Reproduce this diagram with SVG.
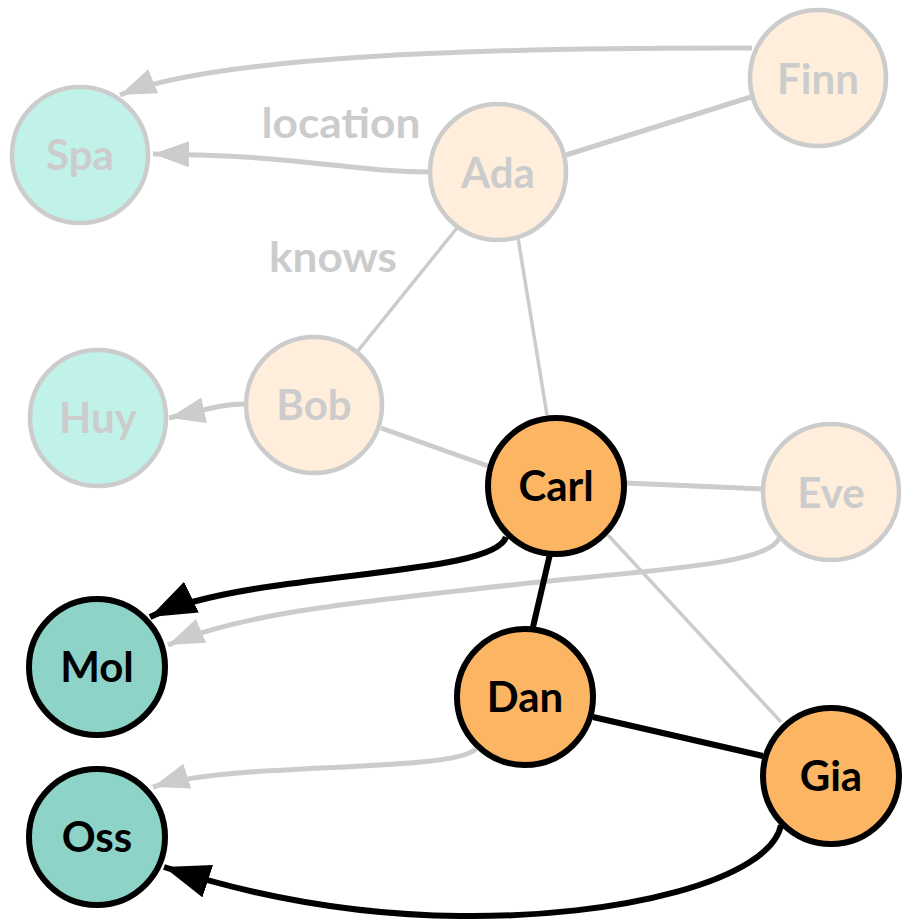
<svg xmlns="http://www.w3.org/2000/svg" width="904" height="921" viewBox="0 0 904 921">
<style>
.fe{fill:none;stroke:#cccccc;stroke-width:5}
.ft{fill:none;stroke:#cccccc;stroke-width:3.5}
.be{fill:none;stroke:#000;stroke-width:6}
.fp{fill:#ffeedb;stroke:#cccccc;stroke-width:4.5}
.fl{fill:#c1f2e9;stroke:#cccccc;stroke-width:4.5}
.ap{fill:#fbb563;stroke:#000;stroke-width:6}
.al{fill:#8dd3c7;stroke:#000;stroke-width:6}
.ftx{font-family:Lato,"Open Sans",sans-serif;font-size:42px;font-weight:bold;fill:#cccccc;text-anchor:middle}
.atx{font-family:Lato,"Open Sans",sans-serif;font-size:42px;font-weight:bold;fill:#000;text-anchor:middle}
.el{font-family:Lato,"Open Sans",sans-serif;font-size:42px;font-weight:bold;fill:#cccccc;text-anchor:middle}
</style>
<defs>
<marker id="ag" markerUnits="userSpaceOnUse" markerWidth="40" markerHeight="30" refX="36" refY="13" orient="auto" viewBox="0 0 40 30">
<path d="M0,0 L36,13 L0,26 z" fill="#cccccc"/>
</marker>
<marker id="ab" markerUnits="userSpaceOnUse" markerWidth="50" markerHeight="40" refX="46" refY="17" orient="auto" viewBox="0 0 50 40">
<path d="M0,0 L46,17 L0,34 z" fill="#000"/>
</marker>
</defs>
<g id="connectors">
<path class="fe" d="M752,48 C420,47 200,62 120,95" marker-end="url(#ag)"/>
<path class="fe" d="M431,172 C350,172 300,155 153,154" marker-end="url(#ag)"/>
<path class="fe" d="M245,404 C220,404 205,410 169,418" marker-end="url(#ag)"/>
<line class="fe" x1="566" y1="155" x2="751" y2="97"/>
<line class="ft" x1="457" y1="228" x2="357" y2="352"/>
<line class="ft" x1="518" y1="238" x2="547" y2="415"/>
<line class="fe" x1="381" y1="428" x2="488" y2="466"/>
<line class="fe" x1="625" y1="483" x2="763" y2="489"/>
<line class="ft" x1="608" y1="535" x2="781" y2="722"/>
<path class="fe" d="M779,538 C770,565 650,570 520,584 C380,600 250,610 168,645" marker-end="url(#ag)"/>
<path class="fe" d="M476,749 C460,765 360,765 250,772 C200,776 175,780 153,787" marker-end="url(#ag)"/>
<path class="be" d="M506,537 C497,565 380,570 260,588 C210,596 175,605 150,617" marker-end="url(#ab)"/>
<line class="be" x1="550" y1="554" x2="533" y2="627"/>
<line class="be" x1="593" y1="717" x2="763" y2="756"/>
<path class="be" d="M781,825 C770,880 620,918 460,916 C350,915 250,895 164,867" marker-end="url(#ab)"/>
</g>
<text class="el" x="341" y="138" textLength="159" lengthAdjust="spacingAndGlyphs">location</text>
<text class="el" x="333" y="272" textLength="128" lengthAdjust="spacingAndGlyphs">knows</text>
<g id="node-spa"><circle class="fl" cx="80" cy="155" r="68"/><text class="ftx" x="80" y="170">Spa</text></g>
<g id="node-finn"><circle class="fp" cx="818" cy="78" r="68"/><text class="ftx" x="818" y="94">Finn</text></g>
<g id="node-ada"><circle class="fp" cx="498" cy="172" r="68"/><text class="ftx" x="498" y="188">Ada</text></g>
<g id="node-bob"><circle class="fp" cx="314" cy="405" r="68"/><text class="ftx" x="314" y="420">Bob</text></g>
<g id="node-huy"><circle class="fl" cx="98" cy="418" r="68"/><text class="ftx" x="98" y="433">Huy</text></g>
<g id="node-eve"><circle class="fp" cx="831" cy="492" r="68"/><text class="ftx" x="831" y="508">Eve</text></g>
<g id="node-carl"><circle class="ap" cx="556" cy="486" r="68"/><text class="atx" x="556" y="501">Carl</text></g>
<g id="node-mol"><circle class="al" cx="97" cy="667" r="68"/><text class="atx" x="97" y="682">Mol</text></g>
<g id="node-dan"><circle class="ap" cx="525" cy="697" r="68"/><text class="atx" x="525" y="712">Dan</text></g>
<g id="node-gia"><circle class="ap" cx="831" cy="776" r="68"/><text class="atx" x="831" y="791">Gia</text></g>
<g id="node-oss"><circle class="al" cx="97" cy="837" r="68"/><text class="atx" x="97" y="852">Oss</text></g>
</svg>
